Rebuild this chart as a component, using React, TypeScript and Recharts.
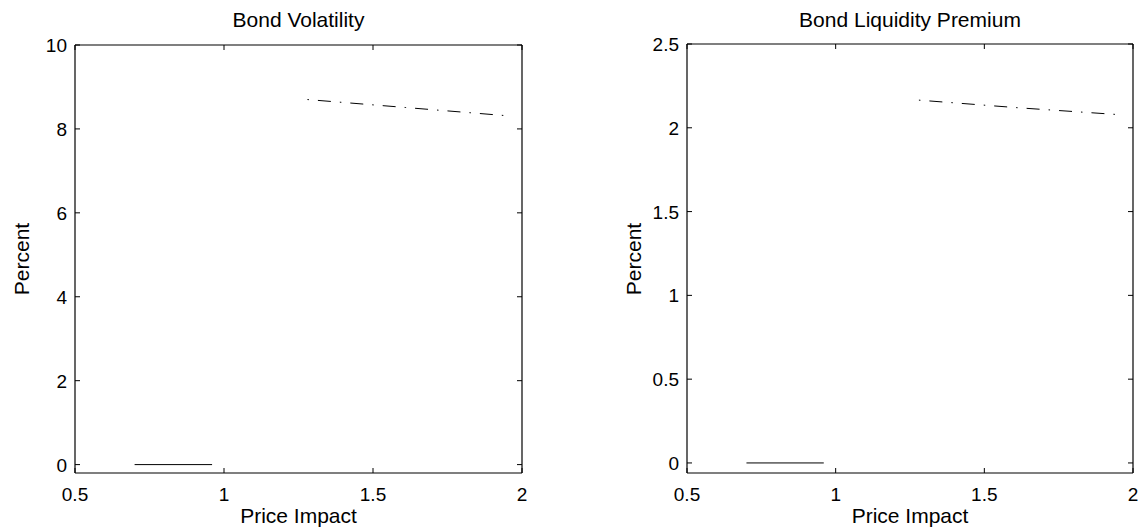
import { LineChart, Line, XAxis, YAxis } from 'recharts';

// values
const impactLow = [0.7, 0.96];
const impactHigh = [1.28, 1.61, 1.94];
const volLow = [0, 0];
const volHigh = [8.7, 8.51, 8.32];
const premLow = [0, 0];
const premHigh = [2.165, 2.12, 2.08];

const xTicks = [0.5, 1, 1.5, 2];
const volTicks = [0, 2, 4, 6, 8, 10];
const premTicks = [0, 0.5, 1, 1.5, 2, 2.5];

const FONT = '"Liberation Sans", Arial, Helvetica, sans-serif';
const FS = 19;
const LFS = 21;
const TICK = 5;

const zip = (xs: number[], ys: number[]) => xs.map((x, i) => ({ x, y: ys[i] }));

const BottomTick = (p: any) => (
    <g>
        <line x1={p.x} x2={p.x} y1={p.y} y2={p.y - TICK} stroke="#000" />
        <text x={p.x} y={p.y + 28} textAnchor="middle" fontFamily={FONT} fontSize={FS} fill="#000">
            {String(p.payload.value)}
        </text>
    </g>
);
const TopTick = (p: any) => (
    <line x1={p.x} x2={p.x} y1={p.y} y2={p.y + TICK} stroke="#000" />
);
const LeftTick = (p: any) => (
    <g>
        <line x1={p.x} x2={p.x + TICK} y1={p.y} y2={p.y} stroke="#000" />
        <text x={p.x - 8} y={p.y + 7} textAnchor="end" fontFamily={FONT} fontSize={FS} fill="#000">
            {String(p.payload.value)}
        </text>
    </g>
);
const RightTick = (p: any) => (
    <line x1={p.x} x2={p.x - TICK} y1={p.y} y2={p.y} stroke="#000" />
);

type PanelProps = {
    left: number;
    width: number;
    margin: { top: number; right: number; bottom: number; left: number };
    title: string;
    yDomain: [number, number];
    yTicks: number[];
    low: number[];
    high: number[];
};

// axes take 1px each (recharts skips a zero-sized axis), margins are trimmed by that
function Panel({ left, width, margin, title, yDomain, yTicks, low, high }: PanelProps) {
    const plotL = margin.left + 1;
    const plotR = width - margin.right - 1;
    const cx = (plotL + plotR) / 2;
    const cy = (margin.top + 1 + 531 - margin.bottom - 1) / 2;
    const axisLine = { stroke: '#000', strokeWidth: 1.2 };
    return (
        <div style={{ position: 'absolute', left, top: 0, width, height: 531 }}>
            <LineChart width={width} height={531} margin={margin}>
                <XAxis dataKey="x" type="number" xAxisId="b" domain={[0.5, 2]} ticks={xTicks}
                    allowDataOverflow interval={0} height={1} tickSize={0} tickMargin={0}
                    tickLine={false} axisLine={axisLine} tick={(p: any) => <BottomTick {...p} />} />
                <XAxis dataKey="x" type="number" xAxisId="t" orientation="top" domain={[0.5, 2]} ticks={xTicks}
                    allowDataOverflow interval={0} height={1} tickSize={0} tickMargin={0}
                    tickLine={false} axisLine={axisLine} tick={(p: any) => <TopTick {...p} />} />
                <YAxis yAxisId="l" type="number" domain={yDomain} ticks={yTicks} allowDataOverflow
                    interval={0} width={1} tickSize={0} tickMargin={0} tickLine={false}
                    axisLine={axisLine} tick={(p: any) => <LeftTick {...p} />} />
                <YAxis yAxisId="r" orientation="right" type="number" domain={yDomain} ticks={yTicks}
                    allowDataOverflow interval={0} width={1} tickSize={0} tickMargin={0} tickLine={false}
                    axisLine={axisLine} tick={(p: any) => <RightTick {...p} />} />
                <Line data={zip(impactLow, low)} dataKey="y" xAxisId="b" yAxisId="l" stroke="#000"
                    strokeWidth={1} dot={false} isAnimationActive={false} />
                <Line data={zip(impactHigh, high)} dataKey="y" xAxisId="b" yAxisId="l" stroke="#000"
                    strokeWidth={1} strokeDasharray="1.5 9 13 9" dot={false} isAnimationActive={false} />
            </LineChart>
            <div style={{ position: 'absolute', left: cx - 150, width: 300, top: 7, textAlign: 'center',
                fontFamily: FONT, fontSize: LFS, lineHeight: '26px' }}>{title}</div>
            <div style={{ position: 'absolute', left: cx - 150, width: 300, top: 503, textAlign: 'center',
                fontFamily: FONT, fontSize: LFS, lineHeight: '26px' }}>Price Impact</div>
            <div style={{ position: 'absolute', left: plotL - 53 - 100, width: 200, top: cy - 13,
                textAlign: 'center', fontFamily: FONT, fontSize: LFS, lineHeight: '26px',
                transform: 'rotate(-90deg)' }}>Percent</div>
        </div>
    );
}

export default function App() {
    return (
        <div style={{ position: 'absolute', left: 0, top: 0, width: 1143, height: 531, background: '#fff' }}>
            <Panel left={0} width={560} margin={{ top: 44, right: 37, bottom: 57, left: 74 }}
                title="Bond Volatility" yDomain={[-0.2, 10]} yTicks={volTicks} low={volLow} high={volHigh} />
            <Panel left={580} width={563} margin={{ top: 43, right: 9, bottom: 57, left: 106 }}
                title="Bond Liquidity Premium" yDomain={[-0.06, 2.5]} yTicks={premTicks}
                low={premLow} high={premHigh} />
        </div>
    );
}
